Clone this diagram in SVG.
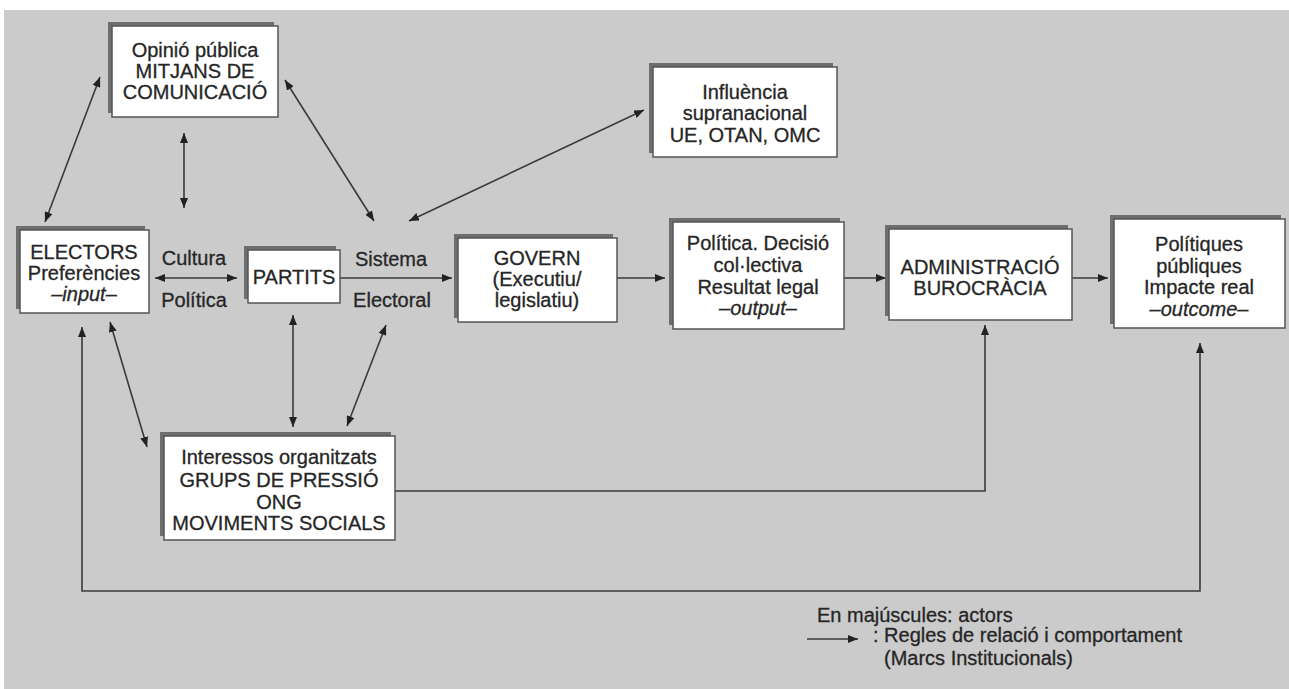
<svg xmlns="http://www.w3.org/2000/svg" width="1289" height="689" viewBox="0 0 1289 689">
<style>
.bg{fill:#cbcbcb}
.sh{fill:#6e6e6e}
.bx{fill:#ffffff;stroke:#555;stroke-width:1.5}
text{font-family:"Liberation Sans",Arial,sans-serif;font-size:20px;fill:#262626;stroke:#262626;stroke-width:0.3;text-anchor:middle}
.l{text-anchor:start}
.i{font-style:italic}
.c{fill:none;stroke:#3a3a3a;stroke-width:1.6}
</style>
<defs>
<marker id="ah" viewBox="0 0 10 8" refX="10" refY="4" markerWidth="10" markerHeight="8" markerUnits="userSpaceOnUse" orient="auto-start-reverse">
<path d="M0,0 L10,4 L0,8 Z" fill="#222"/>
</marker>
</defs>
<rect x="0" y="0" width="1289" height="689" fill="#ffffff"/>
<rect class="bg" x="4" y="10" width="1285" height="679"/>

<g id="connectors">
<line class="c" x1="100" y1="77" x2="45" y2="222" marker-start="url(#ah)" marker-end="url(#ah)"/>
<line class="c" x1="184" y1="133" x2="184" y2="208" marker-start="url(#ah)" marker-end="url(#ah)"/>
<line class="c" x1="285" y1="80" x2="374" y2="221" marker-start="url(#ah)" marker-end="url(#ah)"/>
<line class="c" x1="409" y1="221" x2="644" y2="110" marker-start="url(#ah)" marker-end="url(#ah)"/>
<line class="c" x1="155" y1="278" x2="237" y2="278" marker-start="url(#ah)" marker-end="url(#ah)"/>
<line class="c" x1="340" y1="278" x2="452" y2="278" marker-end="url(#ah)"/>
<line class="c" x1="617" y1="278" x2="665" y2="278" marker-end="url(#ah)"/>
<line class="c" x1="844" y1="278" x2="886" y2="278" marker-end="url(#ah)"/>
<line class="c" x1="1072" y1="278" x2="1108" y2="278" marker-end="url(#ah)"/>
<line class="c" x1="110" y1="322" x2="147" y2="447" marker-start="url(#ah)" marker-end="url(#ah)"/>
<line class="c" x1="293" y1="315" x2="293" y2="427" marker-start="url(#ah)" marker-end="url(#ah)"/>
<line class="c" x1="386" y1="325" x2="347" y2="426" marker-start="url(#ah)" marker-end="url(#ah)"/>
<polyline class="c" points="395,491 985,491 985,325" marker-end="url(#ah)"/>
<polyline class="c" points="82,327 82,591 1200,591 1200,343" marker-start="url(#ah)" marker-end="url(#ah)"/>
<line class="c" x1="807" y1="639" x2="858" y2="639" marker-end="url(#ah)"/>
</g>

<g id="opinio">
<rect class="sh" x="108" y="22" width="166" height="91"/>
<rect class="bx" x="112" y="26" width="166" height="91"/>
<text x="195" y="57">Opinió pública</text>
<text x="195" y="78">MITJANS DE</text>
<text x="195" y="99">COMUNICACIÓ</text>
</g>

<g id="influencia">
<rect class="sh" x="649" y="63" width="184" height="90"/>
<rect class="bx" x="653" y="67" width="184" height="90"/>
<text x="745" y="99">Influència</text>
<text x="745" y="120">supranacional</text>
<text x="745" y="142">UE, OTAN, OMC</text>
</g>

<g id="electors">
<rect class="sh" x="16" y="226" width="129" height="83"/>
<rect class="bx" x="20" y="230" width="129" height="83"/>
<text x="84" y="259">ELECTORS</text>
<text x="84" y="280">Preferències</text>
<text x="84" y="301" class="i">–input–</text>
</g>

<g id="cultura">
<text x="194" y="265">Cultura</text>
<text x="194" y="307">Política</text>
</g>

<g id="partits">
<rect class="sh" x="244" y="246" width="92" height="53"/>
<rect class="bx" x="248" y="250" width="92" height="53"/>
<text x="294" y="284">PARTITS</text>
</g>

<g id="sistema">
<text x="391" y="266">Sistema</text>
<text x="392" y="307">Electoral</text>
</g>

<g id="govern">
<rect class="sh" x="454" y="234" width="159" height="84"/>
<rect class="bx" x="458" y="238" width="159" height="84"/>
<text x="537" y="265">GOVERN</text>
<text x="537" y="286">(Executiu/</text>
<text x="537" y="307">legislatiu)</text>
</g>

<g id="politica">
<rect class="sh" x="669" y="218" width="171" height="107"/>
<rect class="bx" x="673" y="222" width="171" height="107"/>
<text x="758" y="250">Política. Decisió</text>
<text x="758" y="272">col·lectiva</text>
<text x="758" y="294">Resultat legal</text>
<text x="758" y="315" class="i">–output–</text>
</g>

<g id="administracio">
<rect class="sh" x="885" y="225" width="183" height="91"/>
<rect class="bx" x="889" y="229" width="183" height="91"/>
<text x="980" y="274">ADMINISTRACIÓ</text>
<text x="980" y="295">BUROCRÀCIA</text>
</g>

<g id="politiques">
<rect class="sh" x="1110" y="215" width="171" height="109"/>
<rect class="bx" x="1114" y="219" width="171" height="109"/>
<text x="1199" y="251">Polítiques</text>
<text x="1199" y="273">públiques</text>
<text x="1199" y="294">Impacte real</text>
<text x="1199" y="316" class="i">–outcome–</text>
</g>

<g id="interessos">
<rect class="sh" x="160" y="432" width="231" height="104"/>
<rect class="bx" x="164" y="436" width="231" height="104"/>
<text x="279" y="464">Interessos organitzats</text>
<text x="279" y="487">GRUPS DE PRESSIÓ</text>
<text x="279" y="509">ONG</text>
<text x="279" y="530">MOVIMENTS SOCIALS</text>
</g>

<g id="legend">
<text class="l" x="817" y="622">En majúscules: actors</text>
<text class="l" x="873" y="642">: Regles de relació i comportament</text>
<text class="l" x="884" y="665">(Marcs Institucionals)</text>
</g>
</svg>
